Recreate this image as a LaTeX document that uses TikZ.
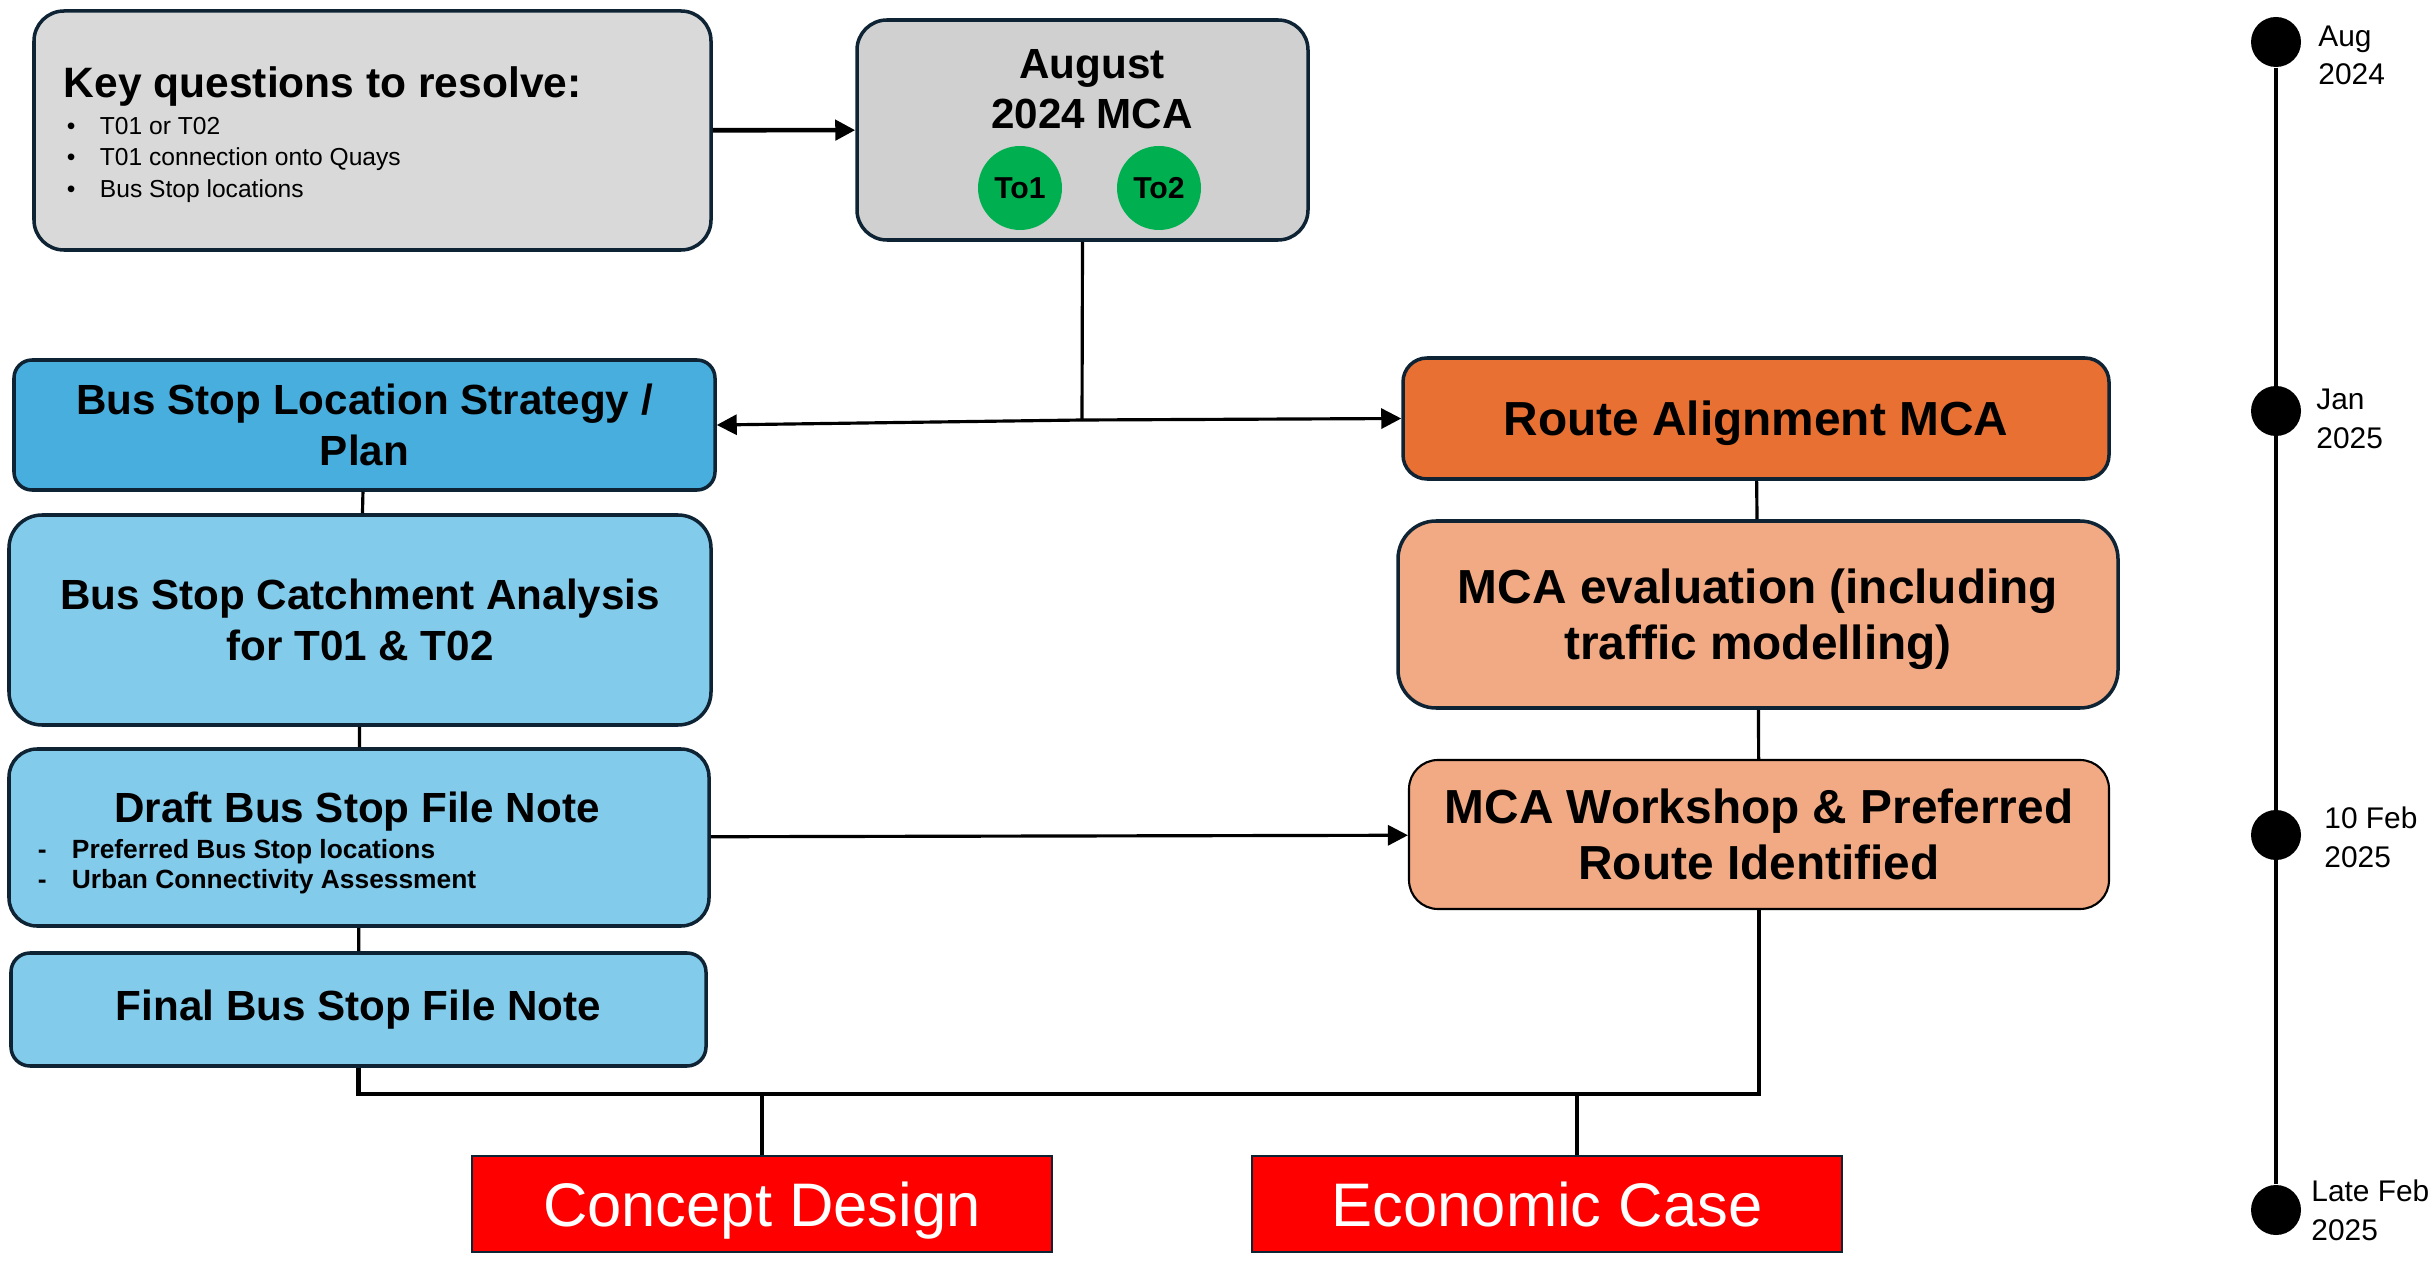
\documentclass[tikz,border=0pt]{standalone}
\usepackage{fontspec}
\setmainfont{Liberation Sans}
\usetikzlibrary{arrows.meta,positioning}
\definecolor{edge}{HTML}{0E2434}
\definecolor{keygrey}{HTML}{D9D9D9}
\definecolor{auggrey}{HTML}{D0D0D0}
\definecolor{locblue}{HTML}{47AEDE}
\definecolor{paleblue}{HTML}{83CBEB}
\definecolor{routeor}{HTML}{E87033}
\definecolor{peach}{HTML}{F1AA84}
\definecolor{optgreen}{HTML}{00B050}

\begin{document}
\begin{tikzpicture}[>={Triangle[length=0.2cm,width=0.2cm]},
  b/.style={draw=edge,line width=1pt,rounded corners=0.22cm,align=center,inner sep=0pt},
  lb/.style={font=\bfseries\fontsize{12}{14.5}\selectfont},
  rb/.style={text depth=0pt,font=\bfseries\fontsize{13.6}{15.9}\selectfont},
  opt/.style={circle,fill=optgreen,minimum size=0.84cm,inner sep=0pt,font=\bfseries\fontsize{8.6}{10}\selectfont},
  endbox/.style={draw=edge,line width=0.6pt,fill=red,text=white,inner sep=0pt,text height=0.44cm,text depth=0pt,font=\fontsize{17.5}{20}\selectfont},
  tdot/.style={circle,fill=black,minimum size=0.5cm,inner sep=0pt},
  tlab/.style={align=left,inner sep=0pt,font=\fontsize{8.5}{11}\selectfont},
  ln/.style={line width=0.9pt}]
  \useasboundingbox (0,0) rectangle (24.33,-12.62);

  \node[b,fill=keygrey,rounded corners=0.3cm,minimum width=6.77cm,minimum height=2.39cm] (keyq) at (3.725,-1.305) {};
  \node[anchor=base west,inner sep=0pt,font=\bfseries\fontsize{12.1}{14}\selectfont] (keyt)
    at ([xshift=0.31cm,yshift=-0.88cm]keyq.north west) {Key questions to resolve:};
  \node[anchor=north west,inner sep=0pt,align=left,font=\fontsize{7}{8.9}\selectfont] (keyl)
    at ([xshift=0.34cm,yshift=-1.075cm]keyq.north west)
    {\makebox[0.33cm][l]{\textbullet}T01 or T02\\
     \makebox[0.33cm][l]{\textbullet}T01 connection onto Quays\\
     \makebox[0.33cm][l]{\textbullet}Bus Stop locations};

  \node[b,fill=auggrey,rounded corners=0.3cm,minimum width=4.51cm,minimum height=2.20cm] (aug) at (10.825,-1.30) {};
  \node[anchor=north,inner sep=0pt,align=center,font=\bfseries\fontsize{12}{14.2}\selectfont] (augt)
    at ([xshift=0.095cm,yshift=-0.31cm]aug.north) {August\\2024 MCA};
  \node[opt] (to1) at (10.20,-1.88) {To1};
  \node[opt] (to2) at (11.59,-1.88) {To2};

  \node[b,lb,fill=locblue,rounded corners=0.18cm,minimum width=7.01cm,minimum height=1.30cm] (loc) at (3.645,-4.25) {Bus Stop Location Strategy /\\Plan};
  \node[b,lb,fill=paleblue,rounded corners=0.33cm,minimum width=7.02cm,minimum height=2.10cm] (catch) at (3.60,-6.20) {Bus Stop Catchment Analysis\\for T01 \& T02};
  \node[b,fill=paleblue,rounded corners=0.28cm,minimum width=7.00cm,minimum height=1.77cm] (draft) at (3.59,-8.375) {};
  \node[lb,anchor=base,inner sep=0pt] (draftt) at ([xshift=-0.02cm,yshift=-0.75cm]draft.north) {Draft Bus Stop File Note};
  \node[anchor=north west,inner sep=0pt,align=left,font=\bfseries\fontsize{7.5}{8.8}\selectfont] (draftl)
    at ([xshift=0.30cm,yshift=-0.91cm]draft.north west)
    {\makebox[0.34cm][l]{-}Preferred Bus Stop locations\\
     \makebox[0.34cm][l]{-}Urban Connectivity Assessment};
  \node[b,lb,fill=paleblue,rounded corners=0.19cm,minimum width=6.95cm,minimum height=1.13cm] (final) at (3.585,-10.095) {Final Bus Stop File Note};

  \node[b,rb,fill=routeor,rounded corners=0.24cm,minimum width=7.06cm,minimum height=1.21cm] (route) at (17.56,-4.185) {Route Alignment MCA};
  \node[b,rb,fill=peach,rounded corners=0.38cm,minimum width=7.20cm,minimum height=1.87cm] (eval) at (17.58,-6.145) {MCA evaluation (including\\traffic modelling)};
  \node[b,rb,fill=peach,draw=black,line width=0.6pt,rounded corners=0.29cm,minimum width=7.00cm,minimum height=1.49cm] (work) at (17.59,-8.345) {MCA Workshop \& Preferred\\Route Identified};

  \node[endbox,minimum width=5.80cm,minimum height=0.96cm] (concept) at (7.62,-12.04) {Concept Design};
  \node[endbox,minimum width=5.90cm,minimum height=0.96cm] (econ) at (15.47,-12.04) {Economic Case};

  \draw[->,line width=1.3pt] (keyq) -- (aug);
  \coordinate (fork) at (10.82,-4.20);
  \draw[ln] (aug.south) -- (fork);
  \draw[ln,->] (fork) -- (loc.east);
  \draw[ln,->] (fork) -- (route.west);
  \draw[ln] (loc) -- (catch);
  \draw[ln] (catch) -- (draft);
  \draw[ln] (draft) -- (final);
  \draw[ln] (route) -- (eval);
  \draw[ln] (eval) -- (work);
  \draw[ln,->] (draft) -- (work);

  \coordinate (bus) at (0,-10.94);
  \coordinate (etap) at (15.77,-10.94);
  \draw[line width=1.3pt] (final.south) |- (work.south |- bus) -- (work.south);
  \draw[ln] (concept.north |- bus) -- (concept.north);
  \draw[ln] (etap) -- (etap |- econ.north);

  \node[tdot] (t1) at (22.76,-0.42) {};
  \node[tdot] (t2) at (22.76,-4.11) {};
  \node[tdot] (t3) at (22.76,-8.35) {};
  \node[tdot] (t4) at (22.76,-12.10) {};
  \draw[ln] (t1) -- (t4);
  \node[tlab,right=0.16cm of t1,yshift=-0.135cm] (l1) {Aug\\2024};
  \node[tlab,right=0.14cm of t2,yshift=-0.08cm] (l2) {Jan\\2025};
  \node[tlab,right=0.22cm of t3,yshift=-0.025cm] (l3) {10 Feb\\2025};
  \node[tlab,right=0.09cm of t4] (l4) {Late Feb\\2025};
\end{tikzpicture}
\end{document}
